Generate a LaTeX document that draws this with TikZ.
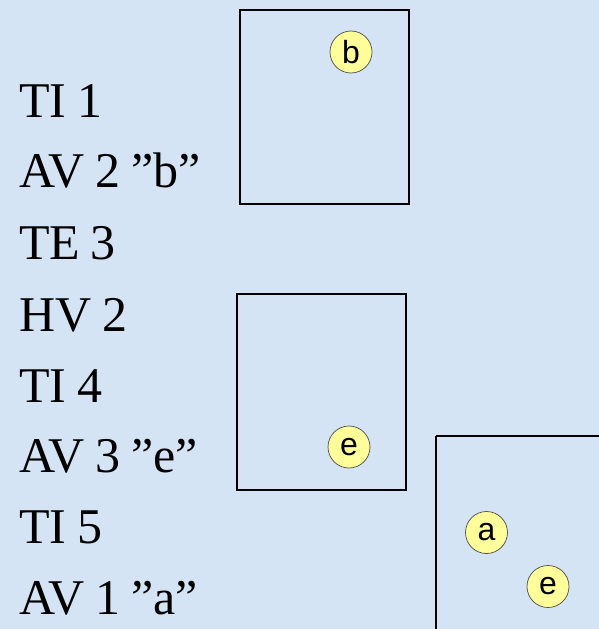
\documentclass[tikz,border=0pt]{standalone}
\usepackage{fontspec}
\setmainfont[WordSpace=0.85]{Liberation Serif}
\newfontfamily\circfont{Liberation Sans}
\definecolor{bgblue}{HTML}{D4E4F4}
\definecolor{circyellow}{HTML}{FFFF99}
\begin{document}
\begin{tikzpicture}[x=1pt,y=-1pt,
  listtext/.style={anchor=base west,inner sep=0pt,font=\fontsize{50}{60}\selectfont},
  framebox/.style={draw=black,line width=2pt},
  tagcirc/.style={circle,draw=black!70,line width=0.7pt,fill=circyellow,minimum size=42pt,inner sep=0pt,font=\circfont\fontsize{32}{34}\selectfont}]
\fill[bgblue] (0,0) rectangle (599,629);
\useasboundingbox (0,0) rectangle (599,629);
\node[listtext] (l1) at (19,117) {TI 1};
\node[listtext] (l2) at (19,187) {AV 2 ”b”};
\node[listtext] (l3) at (19,259) {TE 3};
\node[listtext] (l4) at (19,331) {HV 2};
\node[listtext] (l5) at (19,402) {TI 4};
\node[listtext] (l6) at (19,472) {AV 3 ”e”};
\node[listtext] (l7) at (19,543) {TI 5};
\node[listtext] (l8) at (19,614) {AV 1 ”a”};
\draw[framebox] (240,10) rectangle (409,204);
\draw[framebox] (237,294) rectangle (406,490);
\draw[framebox] (436,436) -- (602,436);
\draw[framebox] (436,436) -- (436,632);
\node[tagcirc] (cb) at (351,52) {b};
\node[tagcirc] (ce1) at (349,447) {e};
\node[tagcirc] (ca) at (486.5,532.5) {a};
\node[tagcirc] (ce2) at (548,586.5) {e};
\end{tikzpicture}
\end{document}
